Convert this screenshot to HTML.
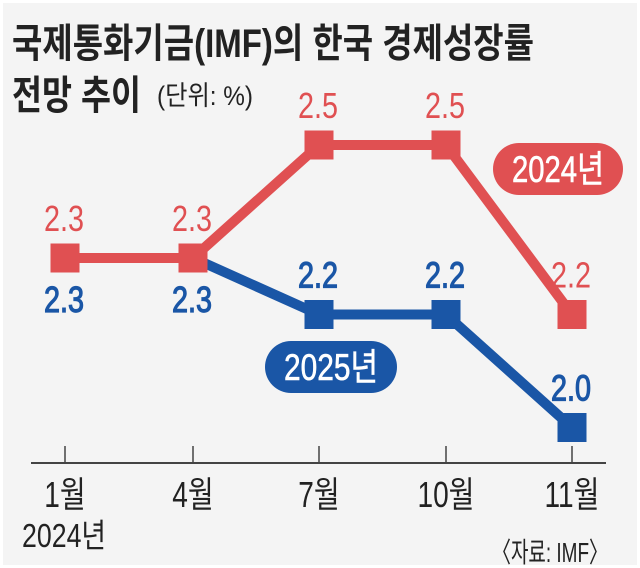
<!DOCTYPE html>
<html><head><meta charset="utf-8">
<style>
html,body{margin:0;padding:0;background:#fff;}
svg{display:block;}
text{font-family:"Liberation Sans","Noto Sans CJK KR",sans-serif;}
</style></head>
<body>
<svg width="640" height="568" viewBox="0 0 640 568">
  <rect x="3" y="3" width="634" height="562" fill="#f4f4f4"/>
  <text x="12" y="57" font-size="40" font-weight="bold" fill="#222" textLength="522" lengthAdjust="spacingAndGlyphs" font-family="Noto Sans CJK KR, sans-serif">국제통화기금(IMF)의 한국 경제성장률</text>
  <text x="12" y="109" font-size="40" font-weight="bold" fill="#222" textLength="129" lengthAdjust="spacingAndGlyphs" font-family="Noto Sans CJK KR, sans-serif">전망 추이</text>
  <text x="157" y="105" font-size="27" fill="#222" textLength="96" lengthAdjust="spacingAndGlyphs" font-family="Noto Sans CJK KR, sans-serif">(단위: %)</text>
  <g id="axis"></g>
  <g id="series"></g>
  <rect x="493" y="143" width="130" height="52" rx="26" fill="#e05052"/>
  <text x="558" y="182" font-size="37" fill="#fff" stroke="#fff" stroke-width="0.6" text-anchor="middle" textLength="92" lengthAdjust="spacingAndGlyphs">2024년</text>
  <rect x="265" y="341" width="132" height="52" rx="26" fill="#1a56a6"/>
  <text x="331" y="380" font-size="37" fill="#fff" stroke="#fff" stroke-width="0.6" text-anchor="middle" textLength="94" lengthAdjust="spacingAndGlyphs">2025년</text>
  <text x="64" y="547" font-size="33" fill="#222" text-anchor="middle" textLength="84" lengthAdjust="spacingAndGlyphs">2024년</text>
  <text x="608" y="562" font-size="28" fill="#222" text-anchor="end" textLength="116" lengthAdjust="spacingAndGlyphs">〈자료: IMF〉</text>
</svg>
<script>
const categories = ["1월","4월","7월","10월","11월"];
const series2024 = [2.3, 2.3, 2.5, 2.5, 2.2];
const series2025 = [2.3, 2.3, 2.2, 2.2, 2.0];
const labels2024 = ["2.3","2.3","2.5","2.5","2.2"];
const labels2025 = ["2.3","2.3","2.2","2.2","2.0"];
const NS = "http://www.w3.org/2000/svg";
const xPos = [65, 193, 319, 446, 572];
function x(i){ return xPos[i]; }
function y(v){ return 258 - (v - 2.3) * 565; }
function mk(tag, attrs, parent){ const e=document.createElementNS(NS,tag); for(const k in attrs) e.setAttribute(k,attrs[k]); parent.appendChild(e); return e; }
const axis = document.getElementById('axis');
const sg = document.getElementById('series');
let l = mk('line',{x1:31,x2:606,y1:463,y2:463,stroke:'#444','stroke-width':2},axis);


categories.forEach((c,i)=>{
  const t = mk('line',{x1:x(i),x2:x(i),y1:446,y2:463,stroke:'#444','stroke-width':1.5},axis);
  
  
  const tx = mk('text',{x:x(i),y:507,'font-size':36,fill:'#222','text-anchor':'middle',transform:'translate('+x(i)+',0) scale(0.78,1) translate('+(-x(i))+',0)'},axis);
  
  
  tx.textContent = c;
});
function drawSeries(vals, color, name){
  const pts = vals.map((v,i)=>x(i)+','+y(v)).join(' ');
  const pl = mk('polyline',{points:pts,fill:'none',stroke:color,'stroke-width':10,'stroke-linejoin':'miter'},sg);
  
  
  vals.forEach((v,i)=>{
    const r = mk('rect',{x:x(i)-14.5,y:y(v)-14.5,width:29,height:29,fill:color},sg);
    
    
  });
}
function drawLabels(vals, labs, color, name, heavy, belowFirst){
  vals.forEach((v,i)=>{
    const below = belowFirst && i<2;
    const t = mk('text',{x:x(i)-1,y: below ? y(v)+54 : y(v)-27,'font-size':36,fill:color,'text-anchor':'middle',textLength:40,lengthAdjust:'spacingAndGlyphs'},sg);
    if(heavy){ t.setAttribute('stroke',color); t.setAttribute('stroke-width','1.2'); }
    
    
    t.textContent = labs[i];
  });
}
drawSeries(series2025, '#1a56a6', 'series-2025');
drawSeries(series2024, '#e05052', 'series-2024');
drawLabels(series2024, labels2024, '#e05052', 'series-2024', false, false);
drawLabels(series2025, labels2025, '#1a56a6', 'series-2025', true, true);
</script>
</body></html>
